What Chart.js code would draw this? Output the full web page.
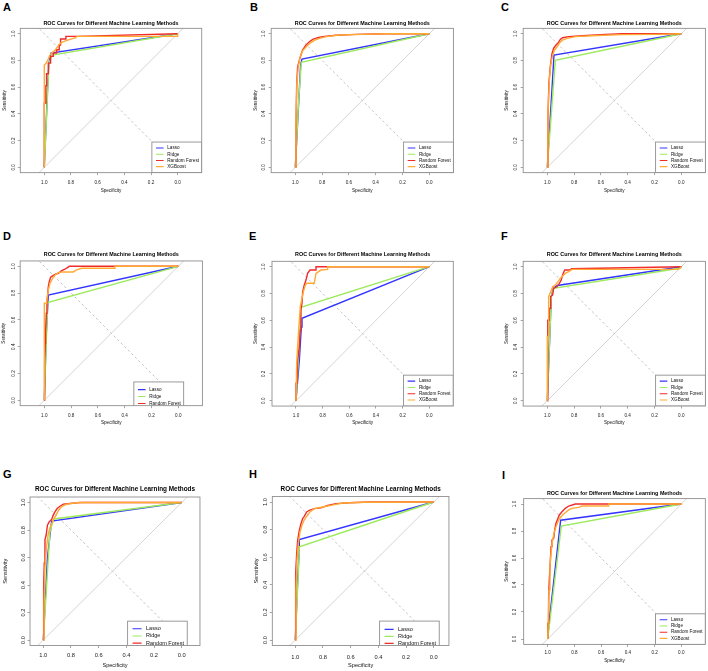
<!DOCTYPE html>
<html>
<head>
<meta charset="utf-8">
<script src="https://cdn.jsdelivr.net/npm/chart.js@4.4.1/dist/chart.umd.min.js"></script>
<style>
  body { margin: 0; background: #fff; }
  #wrap { position: relative; width: 708px; height: 671px; overflow: hidden; background: #fff; }
  #wrap canvas { position: absolute; }
  .tag { position: absolute; font: bold 11px 'Liberation Sans', Arial, sans-serif; line-height: 11px; color: #000; }
</style>
</head>
<body>
<div id="wrap"></div>
<script>
const FONT = "'Liberation Sans', Arial, Helvetica, sans-serif";

const methodNames = ['Lasso', 'Ridge', 'Random Forest', 'XGBoost'];
const methodColors = ['#3434ff', '#9dea5e', '#f02b2b', '#ffaa33'];
const tickValues = [0, 0.2, 0.4, 0.6, 0.8, 1.0];

// curves as [specificity, sensitivity]
const lassoA = [[1,0],[0.975,0.6],[0.965,0.78],[0.95,0.855],[0,1]];
const ridgeA = [[1,0],[0.965,0.78],[0.94,0.84],[0,1]];
const rfA = [[1,0],[1,0.48],[0.988,0.48],[0.988,0.61],[0.983,0.61],[0.983,0.7],[0.97,0.7],[0.97,0.78],[0.953,0.78],[0.953,0.83],[0.933,0.83],[0.933,0.855],[0.908,0.855],[0.908,0.88],[0.888,0.88],[0.888,0.915],[0.878,0.915],[0.878,0.96],[0.838,0.96],[0.838,0.98],[0.75,0.98],[0,1]];
const xgbA = [[1,0],[1,0.765],[0.985,0.78],[0.97,0.81],[0.958,0.84],[0.945,0.855],[0.92,0.875],[0.903,0.9],[0.888,0.92],[0.87,0.935],[0.845,0.945],[0.808,0.958],[0.763,0.97],[0.758,0.98],[0,0.98],[0,1]];

const lassoB = [[1,0],[0.96,0.77],[0.95,0.81],[0,1]];
const ridgeB = [[1,0],[0.975,0.5],[0.955,0.785],[0,1]];
const rfB = [[1,0],[0.995,0.3],[0.99,0.6],[0.983,0.75],[0.97,0.8],[0.958,0.84],[0.945,0.88],[0.92,0.915],[0.895,0.94],[0.87,0.957],[0.833,0.97],[0.796,0.978],[0.697,0.988],[0.547,0.995],[0.323,1],[0,1]];
const xgbB = [[1,0],[0.995,0.35],[0.988,0.63],[0.978,0.75],[0.963,0.83],[0.945,0.873],[0.92,0.9],[0.89,0.93],[0.858,0.95],[0.82,0.965],[0.77,0.978],[0.672,0.99],[0.5,0.995],[0.323,1],[0,1]];

const lassoC = [[1,0],[0.95,0.84],[0,1]];
const ridgeC = [[1,0],[0.94,0.8],[0,1]];
const rfC = [[1,0],[0.995,0.38],[0.988,0.63],[0.978,0.75],[0.965,0.85],[0.953,0.89],[0.935,0.915],[0.92,0.93],[0.903,0.957],[0.886,0.97],[0.84,0.978],[0.74,0.985],[0.567,0.995],[0.443,1],[0,1]];
const xgbC = [[1,0],[0.995,0.4],[0.985,0.65],[0.975,0.765],[0.96,0.84],[0.945,0.88],[0.928,0.9],[0.91,0.93],[0.89,0.95],[0.853,0.965],[0.79,0.978],[0.667,0.985],[0.443,0.993],[0.194,0.995],[0,1]];

const lassoD = [[1,0],[0.985,0.5],[0.97,0.785],[0,1]];
const ridgeD = [[1,0],[0.975,0.73],[0,1]];
const rfD = [[1,0],[1,0.3],[0.995,0.3],[0.993,0.425],[0.99,0.525],[0.985,0.65],[0.98,0.724],[0.975,0.786],[0.97,0.848],[0.963,0.886],[0.953,0.918],[0.938,0.928],[0.92,0.94],[0.895,0.948],[0.87,0.968],[0.846,0.978],[0.813,1],[0.473,1],[0,1]];
const xgbD = [[1,0],[1,0.724],[0.983,0.724],[0.978,0.77],[0.97,0.823],[0.958,0.873],[0.938,0.91],[0.92,0.935],[0.895,0.953],[0.858,0.958],[0.784,0.958],[0.759,0.973],[0.72,0.985],[0.473,0.985],[0.473,1],[0,1]];

const lassoE = [[1,0],[0.975,0.3],[0.96,0.55],[0.955,0.615],[0,1]];
const ridgeE = [[1,0],[0.98,0.35],[0.963,0.697],[0,1]];
const rfE = [[1,0],[1,0.13],[0.993,0.13],[0.988,0.3],[0.975,0.4],[0.968,0.527],[0.963,0.677],[0.955,0.726],[0.95,0.813],[0.938,0.863],[0.925,0.9],[0.913,0.95],[0.895,0.975],[0.85,0.975],[0.85,1],[0,1]];
const xgbE = [[1,0],[0.995,0.28],[0.988,0.4],[0.98,0.527],[0.968,0.7],[0.958,0.75],[0.945,0.813],[0.93,0.863],[0.918,0.876],[0.863,0.876],[0.85,0.95],[0.813,0.975],[0.763,0.98],[0.763,1],[0,1]];

const lassoF = [[1,0],[0.97,0.78],[0.955,0.84],[0.925,0.86],[0,1]];
const ridgeF = [[1,0],[0.97,0.776],[0.953,0.838],[0,0.99]];
const rfF = [[1,0],[1,0.35],[0.995,0.48],[0.995,0.6],[0.985,0.6],[0.985,0.69],[0.975,0.69],[0.975,0.776],[0.96,0.79],[0.953,0.838],[0.928,0.85],[0.91,0.876],[0.896,0.9],[0.886,0.938],[0.87,0.975],[0.828,0.975],[0.82,0.985],[0,1]];
const xgbF = [[1,0],[1,0.48],[0.99,0.48],[0.99,0.776],[0.975,0.813],[0.96,0.85],[0.94,0.863],[0.92,0.888],[0.903,0.913],[0.886,0.93],[0.866,0.95],[0.84,0.963],[0.816,0.98],[0.02,0.98],[0,1]];

const lassoG = [[1,0],[0.97,0.6],[0.94,0.865],[0,1]];
const ridgeG = [[1,0],[0.952,0.787],[0.925,0.88],[0,1]];
const rfG = [[1,0],[1,0.19],[0.995,0.39],[0.993,0.56],[0.988,0.73],[0.98,0.76],[0.97,0.835],[0.957,0.86],[0.94,0.877],[0.928,0.908],[0.916,0.932],[0.9,0.956],[0.88,0.973],[0.855,0.988],[0.807,0.993],[0.735,1],[0,1]];
const xgbG = [[1,0],[0.995,0.24],[0.988,0.53],[0.976,0.68],[0.964,0.775],[0.947,0.83],[0.928,0.872],[0.908,0.908],[0.889,0.944],[0.867,0.97],[0.831,0.988],[0.759,0.998],[0.687,1],[0,1]];

const lassoH = [[1,0],[0.98,0.5],[0.971,0.65],[0.971,0.728],[0,1]];
const ridgeH = [[1,0],[0.975,0.55],[0.971,0.675],[0,1]];
const rfH = [[1,0],[1,0.36],[0.995,0.48],[0.99,0.626],[0.983,0.723],[0.971,0.795],[0.959,0.843],[0.947,0.88],[0.935,0.896],[0.918,0.928],[0.899,0.94],[0.863,0.952],[0.814,0.957],[0.766,0.976],[0.706,0.988],[0.61,0.995],[0.465,1],[0,1]];
const xgbH = [[1,0],[0.995,0.36],[0.988,0.578],[0.978,0.699],[0.966,0.783],[0.952,0.831],[0.937,0.867],[0.918,0.896],[0.894,0.928],[0.863,0.952],[0.802,0.964],[0.742,0.976],[0.658,0.993],[0.5,0.998],[0,1]];

const lassoI = [[1,0],[0.99,0.12],[0.903,0.88],[0,1]];
const ridgeI = [[1,0],[0.898,0.837],[0,1]];
const rfI = [[1,0],[1,0.116],[0.993,0.116],[0.993,0.31],[0.988,0.437],[0.98,0.585],[0.975,0.684],[0.968,0.733],[0.955,0.746],[0.948,0.807],[0.938,0.857],[0.928,0.881],[0.913,0.919],[0.893,0.943],[0.868,0.968],[0.843,0.985],[0.793,1],[0.544,1],[0,1]];
const xgbI = [[1,0],[0.995,0.19],[0.99,0.363],[0.983,0.536],[0.973,0.659],[0.963,0.733],[0.953,0.783],[0.938,0.832],[0.923,0.869],[0.905,0.901],[0.88,0.926],[0.843,0.956],[0.818,0.968],[0.768,0.975],[0.743,0.985],[0.544,0.985],[0.544,1],[0,1]];

// reference lines (chance diagonal and its mirror)
const chanceLine = [[1.3,-0.3],[-0.3,1.3]];
const mirrorLine = [[1.3,1.3],[-0.3,-0.3]];

const sizes = {
  small: { tickFs: 4.6, titleFs: 5.4, axisFs: 4.6, legendFs: 4.6 },
  big: { tickFs: 5.7, titleFs: 6.4, axisFs: 5.6, legendFs: 5.5 }
};

// layout of each sub-figure (pixel positions of spec/sens 1.0 and 0.0, text rows)
const panels = [
  { tag: 'A', tagX: 3, tagY: 3, curves: [lassoA, ridgeA, rfA, xgbA], items: 4, size: 'small',
    x1: 44.3, x0: 177.7, y1: 33.7, y0: 167.3, extL: 0.18, extR: 0.18,
    titleY: 23.2, xTickY: 183, xTitleY: 190.7, yTickX: 13.3, yTitleX: 5, legFirst: 6, legGap: 6.2 },
  { tag: 'B', tagX: 250, tagY: 3, curves: [lassoB, ridgeB, rfB, xgbB], items: 4, size: 'small',
    x1: 295.3, x0: 429.3, y1: 33.7, y0: 167.3, extL: 0.18, extR: 0.18,
    titleY: 23.3, xTickY: 182.7, xTitleY: 190.7, yTickX: 263.7, yTitleX: 256, legFirst: 6, legGap: 6.2 },
  { tag: 'C', tagX: 501, tagY: 3, curves: [lassoC, ridgeC, rfC, xgbC], items: 4, size: 'small',
    x1: 547.3, x0: 681.3, y1: 33.7, y0: 167.3, extL: 0.18, extR: 0.18,
    titleY: 23.3, xTickY: 182.7, xTitleY: 190.7, yTickX: 515.3, yTitleX: 507, legFirst: 6, legGap: 6.2 },
  { tag: 'D', tagX: 3, tagY: 232.7, curves: [lassoD, ridgeD, rfD, xgbD], items: 3, size: 'small',
    x1: 44.3, x0: 178.3, y1: 266.3, y0: 400.3, extL: 0.18, extR: 0.18,
    titleY: 254.7, xTickY: 416, xTitleY: 422.5, yTickX: 13.3, yTitleX: 4, legFirst: 7.7, legGap: 6.9 },
  { tag: 'E', tagX: 249, tagY: 232.7, curves: [lassoE, ridgeE, rfE, xgbE], items: 4, size: 'small',
    x1: 296, x0: 429.3, y1: 266.7, y0: 400.7, extL: 0.18, extR: 0.18,
    titleY: 254.7, xTickY: 416, xTitleY: 422.3, yTickX: 263.7, yTitleX: 256, legFirst: 6, legGap: 6.3 },
  { tag: 'F', tagX: 501, tagY: 232.7, curves: [lassoF, ridgeF, rfF, xgbF], items: 4, size: 'small',
    x1: 547.3, x0: 681.3, y1: 266.7, y0: 400.7, extL: 0.18, extR: 0.18,
    titleY: 254.7, xTickY: 416, xTitleY: 422.7, yTickX: 515.3, yTitleX: 507, legFirst: 6, legGap: 6.3 },
  { tag: 'G', tagX: 3, tagY: 470, curves: [lassoG, ridgeG, rfG, xgbG], items: 3, size: 'big',
    x1: 43.3, x0: 181.7, y1: 502.5, y0: 640, extL: 0.096, extR: 0.132,
    titleY: 489.3, xTickY: 655.7, xTitleY: 665.7, yTickX: 23.3, yTitleX: 5, legFirst: 7.6, legGap: 7.2 },
  { tag: 'H', tagX: 249, tagY: 470, curves: [lassoH, ridgeH, rfH, xgbH], items: 3, size: 'big',
    x1: 295.3, x0: 433.7, y1: 502, y0: 640, extL: 0.166, extR: 0.11,
    titleY: 489.3, xTickY: 657, xTitleY: 665.7, yTickX: 265.3, yTitleX: 256.7, legFirst: 8.3, legGap: 7.0 },
  { tag: 'I', tagX: 502, tagY: 471, curves: [lassoI, ridgeI, rfI, xgbI], items: 4, size: 'small',
    x1: 547.7, x0: 681.3, y1: 504, y0: 639, extL: 0.18, extR: 0.18,
    titleY: 493.3, xTickY: 652.7, xTitleY: 660.7, yTickX: 514.7, yTitleX: 507, legFirst: 6, legGap: 6.2 }
];

const measureCtx = document.createElement('canvas').getContext('2d');
const textWidth = (str, size) => {
  measureCtx.font = `normal ${size}px ${FONT}`;
  return measureCtx.measureText(str).width;
};

const toXY = (pts) => pts.map(([x, y]) => ({ x, y }));

// box around the plot plus an R style legend inside it
const rocFrame = {
  id: 'rocFrame',
  afterDatasetsDraw(chart, args, opts) {
    const { ctx, chartArea: ca, scales } = chart;
    const fs = opts.fontSize;
    ctx.save();
    ctx.beginPath();
    ctx.rect(ca.left, ca.top, ca.width, ca.height);
    ctx.clip();
    ctx.font = `normal ${fs}px ${FONT}`;
    const names = methodNames.slice(0, opts.count);
    const textW = Math.max(...names.map(n => ctx.measureText(n).width));
    const w = fs * 3.35 + textW + fs * 0.6;
    const h = opts.first * 2 + opts.gap * 3;
    let right, top;
    if (opts.count < 4) {
      right = scales.x.getPixelForValue(-0.04);
      top = scales.y.getPixelForValue(0.137);
    } else {
      right = ca.right;
      top = ca.bottom - h;
    }
    const left = right - w;
    ctx.fillStyle = '#fff';
    ctx.fillRect(left, top, w, h);
    ctx.strokeStyle = '#8f8f8f';
    ctx.lineWidth = 0.9;
    ctx.strokeRect(left, top, w, h);
    names.forEach((n, i) => {
      const y = top + opts.first + i * opts.gap;
      ctx.strokeStyle = methodColors[i];
      ctx.lineWidth = 1.1;
      ctx.beginPath();
      ctx.moveTo(left + fs * 0.9, y);
      ctx.lineTo(left + fs * 2.55, y);
      ctx.stroke();
      ctx.fillStyle = '#111';
      ctx.textAlign = 'left';
      ctx.textBaseline = 'middle';
      ctx.fillText(n, left + fs * 3.35, y);
    });
    ctx.restore();

    ctx.save();
    ctx.strokeStyle = '#8f8f8f';
    ctx.lineWidth = 0.9;
    ctx.strokeRect(ca.left, ca.top, ca.width, ca.height);
    ctx.restore();
  }
};

const wrap = document.getElementById('wrap');

panels.forEach((p) => {
  const st = sizes[p.size];
  const ux = p.x0 - p.x1, uy = p.y0 - p.y1;
  const boxL = p.x1 - p.extL * ux, boxR = p.x0 + p.extR * ux;
  const boxT = p.y1 - 0.04 * uy, boxB = p.y0 + 0.04 * uy;

  const cL = Math.floor(p.yTitleX - st.axisFs);
  const cT = Math.floor(p.titleY - st.titleFs);
  const botH = p.xTitleY + st.axisFs - boxB;
  const cR = Math.ceil(boxR + 2);
  const cB = Math.ceil(boxB + botH);
  const W = cR - cL, H = cB - cT;
  const yAxisW = boxL - cL;
  const topH = boxT - cT;
  const tl = 2.5;
  const tickW = textWidth('0.0', st.tickFs);
  const titlePadTop = p.titleY - cT - st.titleFs / 2;
  const titlePadBottom = topH - st.titleFs - titlePadTop;

  const tag = document.createElement('div');
  tag.className = 'tag';
  tag.textContent = p.tag;
  tag.style.left = p.tagX + 'px';
  tag.style.top = (p.tagY - 1.4) + 'px';
  wrap.appendChild(tag);

  const canvas = document.createElement('canvas');
  canvas.width = W;
  canvas.height = H;
  canvas.style.left = cL + 'px';
  canvas.style.top = cT + 'px';
  canvas.style.width = W + 'px';
  canvas.style.height = H + 'px';
  wrap.appendChild(canvas);

  const curveSets = p.curves.map((c, i) => ({
    label: methodNames[i],
    data: toXY(c),
    borderColor: methodColors[i],
    borderWidth: 1.4,
    showLine: true,
    pointRadius: 0,
    tension: 0,
    order: 4 - i
  }));

  const refSets = [
    { label: 'chance', data: toXY(chanceLine), borderColor: '#cfcfcf', borderWidth: 0.9,
      showLine: true, pointRadius: 0, order: 10 },
    { label: 'mirror', data: toXY(mirrorLine), borderColor: '#bdbdbd', borderWidth: 0.9,
      borderDash: [2.5, 2.5], showLine: true, pointRadius: 0, order: 11 }
  ];

  new Chart(canvas, {
    type: 'scatter',
    data: { datasets: refSets.concat(curveSets) },
    options: {
      responsive: false,
      animation: false,
      devicePixelRatio: 1,
      layout: { padding: { left: 0, top: 0, right: cR - boxR, bottom: cB - (boxB + botH) } },
      plugins: {
        legend: { display: false },
        tooltip: { enabled: false },
        title: {
          display: true,
          fullSize: false,
          text: 'ROC Curves for Different Machine Learning Methods',
          color: '#000',
          font: { family: FONT, size: st.titleFs, weight: 'bold', lineHeight: 1 },
          padding: { top: titlePadTop, bottom: titlePadBottom }
        },
        rocFrame: { fontSize: st.legendFs, count: p.items, first: p.legFirst, gap: p.legGap }
      },
      scales: {
        x: {
          type: 'linear',
          reverse: true,
          min: -p.extR,
          max: 1 + p.extL,
          afterBuildTicks: (scale) => { scale.ticks = tickValues.map(v => ({ value: v })); },
          afterFit: (scale) => { scale.height = botH; },
          grid: { display: true, drawOnChartArea: false, drawTicks: true, tickLength: tl, color: '#8f8f8f', lineWidth: 0.8 },
          border: { display: false },
          ticks: {
            autoSkip: false,
            maxRotation: 0,
            padding: p.xTickY - boxB - tl - st.tickFs / 2,
            color: '#222',
            font: { family: FONT, size: st.tickFs, lineHeight: 1 },
            callback: (v) => Number(v).toFixed(1)
          },
          title: {
            display: true,
            text: 'Specificity',
            color: '#111',
            font: { family: FONT, size: st.axisFs, lineHeight: 1 },
            padding: { top: 0, bottom: boxB + botH - p.xTitleY - st.axisFs / 2 }
          }
        },
        y: {
          type: 'linear',
          min: -0.04,
          max: 1.04,
          afterBuildTicks: (scale) => { scale.ticks = tickValues.map(v => ({ value: v })); },
          afterFit: (scale) => { scale.width = yAxisW; },
          grid: { display: true, drawOnChartArea: false, drawTicks: true, tickLength: tl, color: '#8f8f8f', lineWidth: 0.8 },
          border: { display: false },
          ticks: {
            autoSkip: false,
            minRotation: 90,
            maxRotation: 90,
            crossAlign: 'center',
            padding: boxL - p.yTickX - tl - tickW / 2,
            color: '#222',
            font: { family: FONT, size: st.tickFs, lineHeight: 1 },
            callback: (v) => Number(v).toFixed(1)
          },
          title: {
            display: true,
            text: 'Sensitivity',
            color: '#111',
            font: { family: FONT, size: st.axisFs, lineHeight: 1 },
            padding: { top: p.yTitleX - cL - st.axisFs / 2, bottom: 0 }
          }
        }
      }
    },
    plugins: [rocFrame]
  });
});
</script>
</body>
</html>
